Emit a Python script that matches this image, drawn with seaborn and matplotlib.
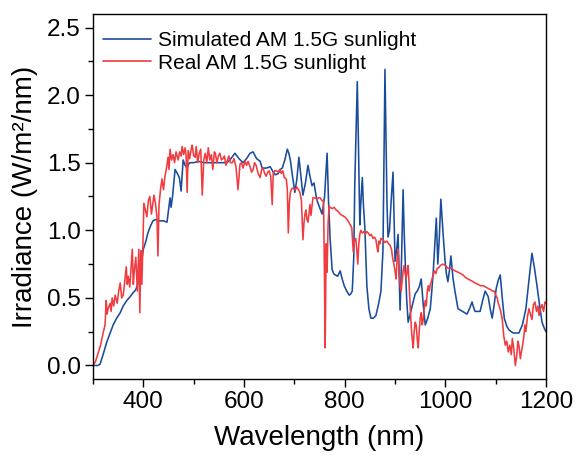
import matplotlib
matplotlib.use("Agg")
import matplotlib.pyplot as plt
from matplotlib.ticker import MultipleLocator
import seaborn as sns
import pandas as pd

# Simulated AM 1.5G sunlight (blue)
sim_wl = [300, 305, 310, 314, 320, 327, 334, 340, 347, 354, 360, 367, 374, 380, 385, 390, 393, 397,
          400, 405, 409, 414, 419, 425, 432, 440, 447, 450, 453, 455, 458, 463, 466, 469, 472, 475,
          477, 479, 483, 487, 490, 493, 500, 510, 520, 540, 566, 574, 582, 590, 598, 605, 612, 618,
          625, 632, 636, 644, 652, 658, 662, 668, 672, 676, 681, 686, 689, 692, 697, 701, 705, 709,
          713, 717, 722, 727, 731, 735, 739, 742, 745, 750, 755, 760, 765, 768, 771, 775, 778, 781,
          786, 791, 795, 799, 804, 809, 812, 815, 818, 820, 823, 825, 827, 830, 832, 835, 837, 840,
          842, 844, 848, 852, 857, 862, 867, 872, 876, 878, 880, 882, 884, 886, 889, 892, 896, 898,
          900, 903, 906, 908, 910, 913, 916, 918, 920, 923, 926, 930, 936, 940, 944, 948, 952, 956,
          960, 965, 970, 973, 976, 979, 982, 985, 988, 991, 995, 999, 1002, 1005, 1008, 1011, 1015,
          1019, 1025, 1034, 1043, 1048, 1053, 1056, 1059, 1064, 1069, 1074, 1079, 1082, 1085, 1089,
          1093, 1097, 1101, 1105, 1109, 1113, 1117, 1122, 1127, 1135, 1146, 1153, 1160, 1166, 1172,
          1177, 1182, 1187, 1192, 1197, 1200]
sim_irr = [0.00, 0.00, 0.00, 0.01, 0.08, 0.17, 0.24, 0.30, 0.35, 0.39, 0.44, 0.48, 0.51, 0.54, 0.56,
           0.62, 0.69, 0.79, 0.86, 0.92, 0.98, 1.03, 1.07, 1.08, 1.07, 1.07, 1.06, 1.15, 1.24, 1.17,
           1.25, 1.45, 1.43, 1.41, 1.38, 1.29, 1.40, 1.52, 1.48, 1.46, 1.49, 1.50, 1.50, 1.51, 1.50,
           1.50, 1.50, 1.53, 1.57, 1.53, 1.50, 1.53, 1.57, 1.58, 1.53, 1.51, 1.46, 1.46, 1.47, 1.43,
           1.41, 1.42, 1.45, 1.46, 1.52, 1.60, 1.57, 1.52, 1.38, 1.28, 1.38, 1.54, 1.40, 1.26, 1.35,
           1.48, 1.40, 1.33, 1.35, 1.28, 1.22, 1.17, 1.12, 1.25, 1.57, 1.20, 0.94, 0.71, 0.68, 0.67,
           0.66, 0.70, 0.64, 0.59, 0.55, 0.52, 0.53, 0.55, 0.80, 1.34, 1.80, 2.10, 1.70, 1.04, 1.20,
           1.39, 1.20, 1.02, 0.80, 0.59, 0.42, 0.35, 0.35, 0.37, 0.45, 0.55, 0.85, 1.50, 2.19, 1.70,
           1.20, 0.95, 1.00, 1.20, 1.43, 1.10, 0.77, 0.85, 0.97, 0.70, 0.41, 0.80, 1.30, 1.00, 0.79,
           0.50, 0.32, 0.38, 0.47, 0.53, 0.55, 0.58, 0.64, 0.45, 0.30, 0.35, 0.42, 0.55, 0.70, 0.90,
           1.09, 0.75, 0.95, 1.23, 1.00, 0.79, 0.68, 0.62, 0.70, 0.81, 0.65, 0.55, 0.42, 0.40, 0.38,
           0.42, 0.47, 0.43, 0.40, 0.40, 0.40, 0.48, 0.55, 0.53, 0.51, 0.42, 0.35, 0.45, 0.57, 0.63,
           0.67, 0.50, 0.35, 0.29, 0.26, 0.24, 0.24, 0.30, 0.42, 0.63, 0.83, 0.72, 0.59, 0.45, 0.32,
           0.27, 0.25]

# Real AM 1.5G sunlight (red)
real_wl = [300, 305, 310, 315, 320, 324, 326, 328, 330, 334, 336, 338, 341, 344, 348, 351, 354, 357,
           360, 363, 366, 368, 370, 373, 376, 378, 380, 382, 385, 388, 391, 393, 395, 397, 399, 401,
           404, 407, 410, 413, 416, 419, 421, 424, 427, 429, 431, 434, 437, 440, 443, 446, 449, 451,
           453, 456, 459, 462, 465, 469, 472, 475, 477, 480, 483, 485, 487, 489, 492, 495, 497, 500,
           503, 505, 508, 511, 514, 517, 520, 523, 526, 529, 532, 535, 538, 541, 543, 546, 549, 552,
           555, 558, 561, 564, 567, 570, 573, 577, 580, 584, 588, 592, 595, 598, 602, 605, 608, 612,
           615, 618, 621, 624, 628, 632, 635, 638, 641, 644, 647, 650, 653, 656, 658, 661, 664, 668,
           671, 674, 677, 680, 684, 686, 688, 690, 692, 695, 698, 702, 705, 708, 711, 714, 717, 719,
           721, 723, 725, 727, 729, 731, 733, 735, 737, 741, 745, 748, 751, 755, 758, 760, 761, 762,
           763, 765, 767, 769, 771, 775, 779, 783, 787, 791, 795, 800, 805, 808, 811, 814, 817, 819,
           822, 824, 826, 828, 830, 832, 835, 838, 841, 844, 847, 850, 853, 856, 859, 862, 864, 866,
           868, 870, 872, 876, 880, 884, 887, 890, 893, 895, 898, 900, 902, 904, 906, 908, 910, 912,
           914, 916, 918, 920, 922, 924, 926, 928, 930, 932, 934, 936, 938, 940, 942, 944, 946, 948,
           950, 952, 954, 956, 958, 960, 962, 964, 966, 968, 970, 972, 975, 978, 981, 984, 986, 990,
           995, 1000, 1005, 1010, 1015, 1019, 1025, 1030, 1035, 1040, 1045, 1050, 1055, 1059, 1065,
           1070, 1075, 1080, 1085, 1090, 1094, 1097, 1100, 1103, 1105, 1107, 1110, 1113, 1116, 1119,
           1122, 1125, 1128, 1131, 1133, 1136, 1139, 1142, 1144, 1146, 1149, 1151, 1153, 1156, 1158,
           1160, 1163, 1166, 1169, 1172, 1175, 1178, 1181, 1184, 1186, 1189, 1192, 1195, 1198, 1200]
real_irr = [0.00, 0.03, 0.09, 0.15, 0.24, 0.30, 0.48, 0.38, 0.42, 0.46, 0.40, 0.50, 0.44, 0.52, 0.46,
            0.55, 0.61, 0.50, 0.52, 0.62, 0.73, 0.60, 0.66, 0.58, 0.75, 0.86, 0.60, 0.70, 0.80, 0.55,
            0.86, 0.39, 0.85, 0.60, 0.88, 1.20, 1.15, 1.10, 1.22, 1.25, 1.12, 1.20, 1.26, 1.20, 1.10,
            0.81, 1.18, 1.30, 1.38, 1.30, 1.40, 1.46, 1.54, 1.45, 1.60, 1.52, 1.56, 1.50, 1.58, 1.52,
            1.58, 1.55, 1.62, 1.56, 1.61, 1.55, 1.28, 1.59, 1.53, 1.60, 1.63, 1.55, 1.54, 1.62, 1.50,
            1.57, 1.60, 1.26, 1.52, 1.57, 1.50, 1.61, 1.52, 1.56, 1.45, 1.58, 1.57, 1.50, 1.55, 1.57,
            1.52, 1.53, 1.55, 1.48, 1.52, 1.55, 1.50, 1.50, 1.53, 1.47, 1.30, 1.49, 1.50, 1.46, 1.51,
            1.48, 1.51, 1.47, 1.43, 1.45, 1.50, 1.48, 1.42, 1.39, 1.45, 1.46, 1.42, 1.40, 1.43, 1.44,
            1.40, 1.19, 1.42, 1.44, 1.44, 1.43, 1.45, 1.42, 1.44, 1.39, 1.38, 1.30, 0.98, 1.20, 1.28,
            1.31, 1.31, 1.30, 1.32, 1.30, 1.28, 1.22, 0.93, 1.05, 1.12, 1.15, 1.08, 1.06, 1.12, 1.19,
            1.11, 1.18, 1.24, 1.24, 1.23, 1.24, 1.24, 1.22, 1.21, 0.60, 0.13, 0.40, 0.90, 0.69, 1.05,
            1.18, 1.17, 1.16, 1.17, 1.15, 1.14, 1.12, 1.11, 1.10, 1.08, 1.06, 1.04, 1.02, 0.84, 0.92,
            0.94, 0.85, 0.75, 0.90, 0.97, 1.00, 0.98, 0.99, 0.97, 0.99, 0.98, 0.96, 0.97, 0.94, 0.95,
            0.93, 0.88, 0.84, 0.92, 0.90, 0.94, 0.93, 0.91, 0.92, 0.90, 0.89, 0.86, 0.80, 0.74, 0.70,
            0.64, 0.78, 0.86, 0.70, 0.60, 0.55, 0.62, 0.70, 0.74, 0.68, 0.64, 0.70, 0.74, 0.60, 0.45,
            0.30, 0.20, 0.13, 0.25, 0.32, 0.30, 0.20, 0.13, 0.25, 0.35, 0.39, 0.30, 0.34, 0.42, 0.48,
            0.44, 0.55, 0.59, 0.55, 0.60, 0.62, 0.66, 0.70, 0.68, 0.72, 0.72, 0.74, 0.75, 0.74, 0.72,
            0.72, 0.71, 0.70, 0.69, 0.68, 0.67, 0.65, 0.64, 0.63, 0.62, 0.61, 0.60, 0.59, 0.59, 0.58,
            0.57, 0.56, 0.55, 0.55, 0.52, 0.50, 0.46, 0.44, 0.40, 0.34, 0.22, 0.15, 0.18, 0.10, 0.15,
            0.08, 0.20, 0.12, 0.00, 0.08, 0.18, 0.15, 0.05, 0.10, 0.14, 0.22, 0.30, 0.25, 0.36, 0.42,
            0.38, 0.34, 0.45, 0.47, 0.40, 0.44, 0.37, 0.42, 0.45, 0.40, 0.47, 0.46]

series_names = ["Simulated AM 1.5G sunlight", "Real AM 1.5G sunlight"]
series_colors = ["#1a4c9c", "#f03c40"]

df = pd.concat([
    pd.DataFrame({"Wavelength": sim_wl, "Irradiance": sim_irr, "Series": series_names[0]}),
    pd.DataFrame({"Wavelength": real_wl, "Irradiance": real_irr, "Series": series_names[1]}),
], ignore_index=True)

sns.set_style("ticks")
plt.rcParams["font.family"] = ["Liberation Sans", "DejaVu Sans"]
plt.rcParams["text.color"] = "black"
plt.rcParams["axes.labelcolor"] = "black"
plt.rcParams["xtick.color"] = "black"
plt.rcParams["ytick.color"] = "black"
plt.rcParams["axes.edgecolor"] = "black"

fig = plt.figure(figsize=(5.76, 4.57), dpi=100)
ax = fig.add_axes([0.1615, 0.1707, 0.7865, 0.7987])

sns.lineplot(data=df, x="Wavelength", y="Irradiance", hue="Series",
             hue_order=series_names, palette=dict(zip(series_names, series_colors)),
             estimator=None, sort=False, linewidth=1.15, ax=ax)

ax.set_xlim(300, 1200)
ax.set_ylim(-0.1, 2.6)
ax.set_xticks([400, 600, 800, 1000, 1200])
ax.xaxis.set_minor_locator(MultipleLocator(100))
ax.set_yticks([0.0, 0.5, 1.0, 1.5, 2.0, 2.5])
ax.set_yticklabels(["0.0", "0.5", "1.0", "1.5", "2.0", "2.5"])
ax.yaxis.set_minor_locator(MultipleLocator(0.25))

for s in ax.spines.values():
    s.set_visible(True)
    s.set_linewidth(1.0)
    s.set_color("black")

ax.tick_params(axis="both", which="major", direction="out", length=6, width=1.0,
               labelsize=17.5, colors="black", pad=3)
ax.tick_params(axis="both", which="minor", direction="out", length=3.5, width=1.0, colors="black")
ax.tick_params(top=False, right=False, which="both")

ax.set_xlabel("Wavelength (nm)", fontsize=20, labelpad=8, color="black")
ax.set_ylabel("Irradiance (W/m\u00b2/nm)", fontsize=20, labelpad=6, color="black")

leg = ax.legend(loc="upper left", bbox_to_anchor=(-0.011, 0.992), frameon=False, fontsize=15,
                handlelength=2.3, handletextpad=0.35, labelspacing=0.15, borderaxespad=0.3)
for t in leg.get_texts():
    t.set_color("black")
for h in leg.get_lines():
    h.set_linewidth(1.2)

fig.savefig("out.png", dpi=100)
